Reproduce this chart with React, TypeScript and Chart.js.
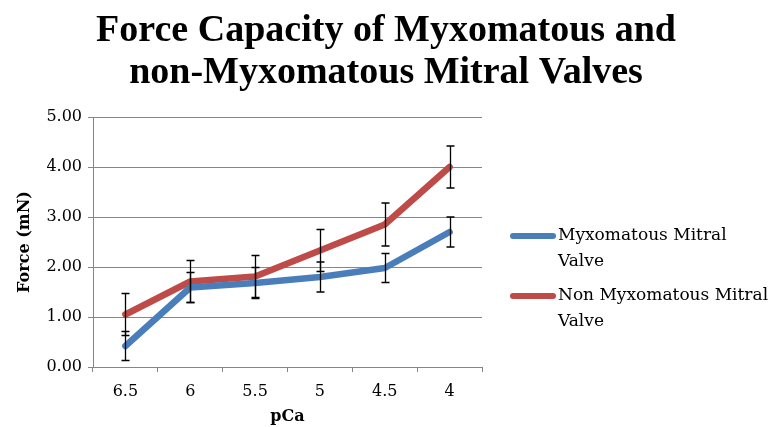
import React, { useEffect, useRef } from "react";
import { Chart, registerables } from "chart.js";

Chart.register(...registerables);

const titleLines = ["Force Capacity of Myxomatous and", "non-Myxomatous Mitral Valves"];
const categories = ["6.5", "6", "5.5", "5", "4.5", "4"];
const seriesLabels = ["Myxomatous Mitral Valve", "Non Myxomatous Mitral Valve"];
const myxoValues = [0.42, 1.59, 1.68, 1.8, 1.98, 2.7];
const myxoErrors = [0.29, 0.3, 0.31, 0.3, 0.29, 0.3];
const nonMyxoValues = [1.05, 1.71, 1.81, 2.33, 2.85, 4.0];
const nonMyxoErrors = [0.42, 0.42, 0.42, 0.42, 0.43, 0.42];
const yMin = 0;
const yMax = 5;
const yStep = 1;
const xTitle = "pCa";
const yTitle = "Force (mN)";

const BLUE = "#4A7EBB";
const RED = "#BE4B48";
const GRID = "#868686";
const BODY_FONT = "'DejaVu Serif', 'Liberation Serif', serif";
const TITLE_FONT = "'Liberation Serif', 'DejaVu Serif', serif";

const titlePlugin = {
  id: "centeredTitle",
  afterDraw(chart: any) {
    const ctx = chart.ctx;
    ctx.save();
    ctx.font = `bold 38px ${TITLE_FONT}`;
    ctx.fillStyle = "#000";
    ctx.textAlign = "center";
    ctx.textBaseline = "middle";
    titleLines.forEach((ln, i) => {
      ctx.fillText(ln, chart.width / 2, 31 + i * 42);
    });
    ctx.restore();
  },
};

const errorBarPlugin = {
  id: "errorBars",
  afterDatasetsDraw(chart: any) {
    const ctx = chart.ctx;
    const yScale = chart.scales.y;
    ctx.save();
    ctx.strokeStyle = "#000";
    ctx.lineWidth = 1.3;
    chart.data.datasets.forEach((ds: any, di: number) => {
      const meta = chart.getDatasetMeta(di);
      const errs: number[] = ds.errors || [];
      meta.data.forEach((pt: any, i: number) => {
        const v = ds.data[i];
        const e = errs[i];
        if (v == null || e == null) return;
        const x = Math.round(pt.x) + 0.5;
        const yt = yScale.getPixelForValue(v + e);
        const yb = yScale.getPixelForValue(v - e);
        ctx.beginPath();
        ctx.moveTo(x, yt);
        ctx.lineTo(x, yb);
        ctx.moveTo(x - 4, yt);
        ctx.lineTo(x + 4, yt);
        ctx.moveTo(x - 4, yb);
        ctx.lineTo(x + 4, yb);
        ctx.stroke();
      });
    });
    ctx.restore();
  },
};

const legendPlugin = {
  id: "wrappedLegend",
  afterDraw(chart: any) {
    const ctx = chart.ctx;
    const area = chart.chartArea;
    const lineX0 = area.right + 28;
    const lineX1 = lineX0 + 46;
    const textX = lineX1 + 2;
    const maxW = 212;
    const lineH = 26;
    let y = area.top + 119;
    ctx.save();
    ctx.font = `17px ${BODY_FONT}`;
    ctx.textBaseline = "middle";
    ctx.textAlign = "left";
    chart.data.datasets.forEach((ds: any) => {
      const words = String(ds.label).split(" ");
      const lines: string[] = [];
      let cur = "";
      words.forEach((w) => {
        const test = cur ? cur + " " + w : w;
        if (ctx.measureText(test).width > maxW && cur) {
          lines.push(cur);
          cur = w;
        } else {
          cur = test;
        }
      });
      if (cur) lines.push(cur);
      ctx.strokeStyle = ds.borderColor;
      ctx.lineWidth = 6;
      ctx.lineCap = "round";
      ctx.beginPath();
      ctx.moveTo(lineX0 + 3, y);
      ctx.lineTo(lineX1 - 3, y);
      ctx.stroke();
      ctx.fillStyle = "#000";
      lines.forEach((ln, k) => {
        ctx.fillText(ln, textX, y + k * lineH);
      });
      y += lines.length * lineH + 8;
    });
    ctx.restore();
  },
};

export default function App() {
  const ref = useRef<HTMLCanvasElement | null>(null);

  useEffect(() => {
    if (!ref.current) return;
    const chart = new Chart(ref.current, {
      type: "line",
      data: {
        labels: categories,
        datasets: [
          {
            label: seriesLabels[0],
            data: myxoValues,
            errors: myxoErrors,
            borderColor: BLUE,
            backgroundColor: BLUE,
            borderWidth: 6.5,
            pointRadius: 0,
            borderCapStyle: "round",
            borderJoinStyle: "round",
            tension: 0,
          } as any,
          {
            label: seriesLabels[1],
            data: nonMyxoValues,
            errors: nonMyxoErrors,
            borderColor: RED,
            backgroundColor: RED,
            borderWidth: 6.5,
            pointRadius: 0,
            borderCapStyle: "round",
            borderJoinStyle: "round",
            tension: 0,
          } as any,
        ],
      },
      options: {
        responsive: false,
        animation: false,
        layout: { padding: { left: 4, right: 290, top: 117, bottom: 1 } },
        plugins: {
          legend: { display: false },
          tooltip: { enabled: false },
          title: { display: false },
        },
        scales: {
          x: {
            type: "category",
            offset: true,
            grid: {
              display: true,
              drawOnChartArea: false,
              drawTicks: true,
              tickLength: 5,
              color: GRID,
              offset: true,
            },
            border: { color: GRID, width: 1 },
            ticks: { color: "#000", font: { family: BODY_FONT, size: 16 }, padding: 10 },
            title: {
              display: true,
              text: xTitle,
              color: "#000",
              font: { family: BODY_FONT, size: 16, weight: "bold" },
              padding: { top: 5, bottom: 0 },
            },
            afterFit: (s: any) => {
              s.height = 59;
            },
          },
          y: {
            min: yMin,
            max: yMax,
            grid: { color: GRID, tickLength: 5 },
            border: { color: GRID, width: 1 },
            ticks: {
              stepSize: yStep,
              color: "#000",
              font: { family: BODY_FONT, size: 16 },
              padding: 6,
              callback: (v: any) => Number(v).toFixed(2),
            },
            title: {
              display: true,
              text: yTitle,
              color: "#000",
              font: { family: BODY_FONT, size: 16, weight: "bold" },
              padding: { top: 11, bottom: 0 },
            },
            afterFit: (s: any) => {
              s.width = 89;
            },
          },
        },
      } as any,
      plugins: [errorBarPlugin, legendPlugin, titlePlugin],
    });
    return () => chart.destroy();
  }, []);

  return (
    <div style={{ position: "absolute", left: 0, top: 0, width: 772, height: 427, background: "#fff" }}>
      <canvas ref={ref} width={772} height={427} style={{ display: "block", width: 772, height: 427 }} />
    </div>
  );
}
